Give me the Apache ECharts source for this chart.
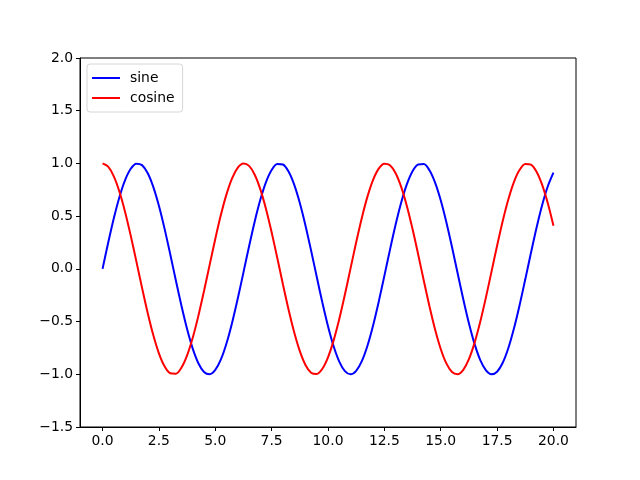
<!DOCTYPE html>
<html><head><meta charset="utf-8">
<script src="https://cdn.jsdelivr.net/npm/echarts@6/dist/echarts.min.js"></script>
<style>html,body{margin:0;padding:0;background:#fff}#c{width:640px;height:480px}</style>
</head><body><div id="c"></div>
<script>
const xValues = [0,0.25,0.5,0.75,1,1.25,1.5,1.75,2,2.25,2.5,2.75,3,3.25,3.5,3.75,4,4.25,4.5,4.75,5,5.25,5.5,5.75,6,6.25,6.5,6.75,7,7.25,7.5,7.75,8,8.25,8.5,8.75,9,9.25,9.5,9.75,10,10.25,10.5,10.75,11,11.25,11.5,11.75,12,12.25,12.5,12.75,13,13.25,13.5,13.75,14,14.25,14.5,14.75,15,15.25,15.5,15.75,16,16.25,16.5,16.75,17,17.25,17.5,17.75,18,18.25,18.5,18.75,19,19.25,19.5,19.75,20];
const sineValues = [0,0.2474,0.4794,0.6816,0.8415,0.9490,0.9975,0.9840,0.9093,0.7781,0.5985,0.3817,0.1411,-0.1082,-0.3508,-0.5716,-0.7568,-0.8950,-0.9775,-0.9993,-0.9589,-0.8589,-0.7055,-0.5082,-0.2794,-0.0332,0.2151,0.4500,0.6570,0.8231,0.9380,0.9946,0.9894,0.9226,0.7985,0.6247,0.4121,0.1739,-0.0752,-0.3195,-0.5440,-0.7347,-0.8797,-0.9700,-1.0000,-0.9678,-0.8755,-0.7287,-0.5366,-0.3111,-0.0663,0.1826,0.4202,0.6316,0.8038,0.9260,0.9906,0.9936,0.9349,0.8180,0.6503,0.4421,0.2065,-0.0420,-0.2879,-0.5159,-0.7118,-0.8634,-0.9614,-0.9996,-0.9756,-0.8910,-0.7510,-0.5643,-0.3425,-0.0994,0.1499,0.3898,0.6055,0.7836,0.9129];
const cosineValues = [1,0.9689,0.8776,0.7317,0.5403,0.3153,0.0707,-0.1782,-0.4161,-0.6282,-0.8011,-0.9243,-0.9900,-0.9941,-0.9365,-0.8206,-0.6536,-0.4461,-0.2108,0.0376,0.2837,0.5121,0.7087,0.8612,0.9602,0.9994,0.9766,0.8930,0.7539,0.5679,0.3466,0.1038,-0.1455,-0.3857,-0.6020,-0.7808,-0.9111,-0.9848,-0.9972,-0.9476,-0.8391,-0.6784,-0.4755,-0.2431,0.0044,0.2517,0.4833,0.6849,0.8439,0.9504,0.9978,0.9832,0.9074,0.7753,0.5949,0.3776,0.1367,-0.1126,-0.3549,-0.5752,-0.7597,-0.8970,-0.9785,-0.9991,-0.9577,-0.8567,-0.7024,-0.5045,-0.2752,-0.0288,0.2194,0.4540,0.6603,0.8256,0.9395,0.9950,0.9887,0.9209,0.7958,0.6213,0.4081];
const xTicks = [0,2.5,5,7.5,10,12.5,15,17.5,20];
const seriesNames = ['sine','cosine'];

const font = 'DejaVu Sans';
const chart = echarts.init(document.getElementById('c'), null, {renderer:'canvas'});
chart.setOption({
  animation:false,
  backgroundColor:'#fff',
  grid:{left:80,right:64,top:58,bottom:53,show:true,borderColor:'#000',borderWidth:1,backgroundColor:'transparent'},
  legend:{
    left:87, top:64, orient:'vertical', icon:'rect', itemWidth:28, itemHeight:2, itemGap:4,
    padding:[6,8,6,5], backgroundColor:'#fff', borderColor:'#d6d6d6', borderWidth:1, borderRadius:3,
    textStyle:{fontFamily:font,fontSize:13.9,color:'#000',padding:[0,0,0,5],lineHeight:16},
    data:seriesNames
  },
  xAxis:{
    type:'value', min:-1, max:21,
    splitLine:{show:false},
    axisLine:{show:true,onZero:false,lineStyle:{color:'#000',width:1}},
    axisTick:{show:true,length:4,inside:false,customValues:xTicks,lineStyle:{color:'#000'}},
    axisLabel:{customValues:xTicks,fontFamily:font,fontSize:13.9,color:'#000',margin:7,formatter:v=>v.toFixed(1)}
  },
  yAxis:{
    type:'value', min:-1.5, max:2.0, interval:0.5,
    splitLine:{show:false},
    axisLine:{show:true,onZero:false,lineStyle:{color:'#000',width:1}},
    axisTick:{show:true,length:4,inside:false,lineStyle:{color:'#000'}},
    axisLabel:{fontFamily:font,fontSize:13.9,color:'#000',margin:7,formatter:v=>(v<0?'\u2212'+(-v).toFixed(1):v.toFixed(1))}
  },
  series:[
    {name:seriesNames[0],type:'line',smooth:0.3,symbol:'none',lineStyle:{color:'#0000ff',width:2},itemStyle:{color:'#0000ff'},data:xValues.map((x,i)=>[x,sineValues[i]])},
    {name:seriesNames[1],type:'line',smooth:0.3,symbol:'none',lineStyle:{color:'#ff0000',width:2},itemStyle:{color:'#ff0000'},data:xValues.map((x,i)=>[x,cosineValues[i]])}
  ]
});
</script></body></html>
